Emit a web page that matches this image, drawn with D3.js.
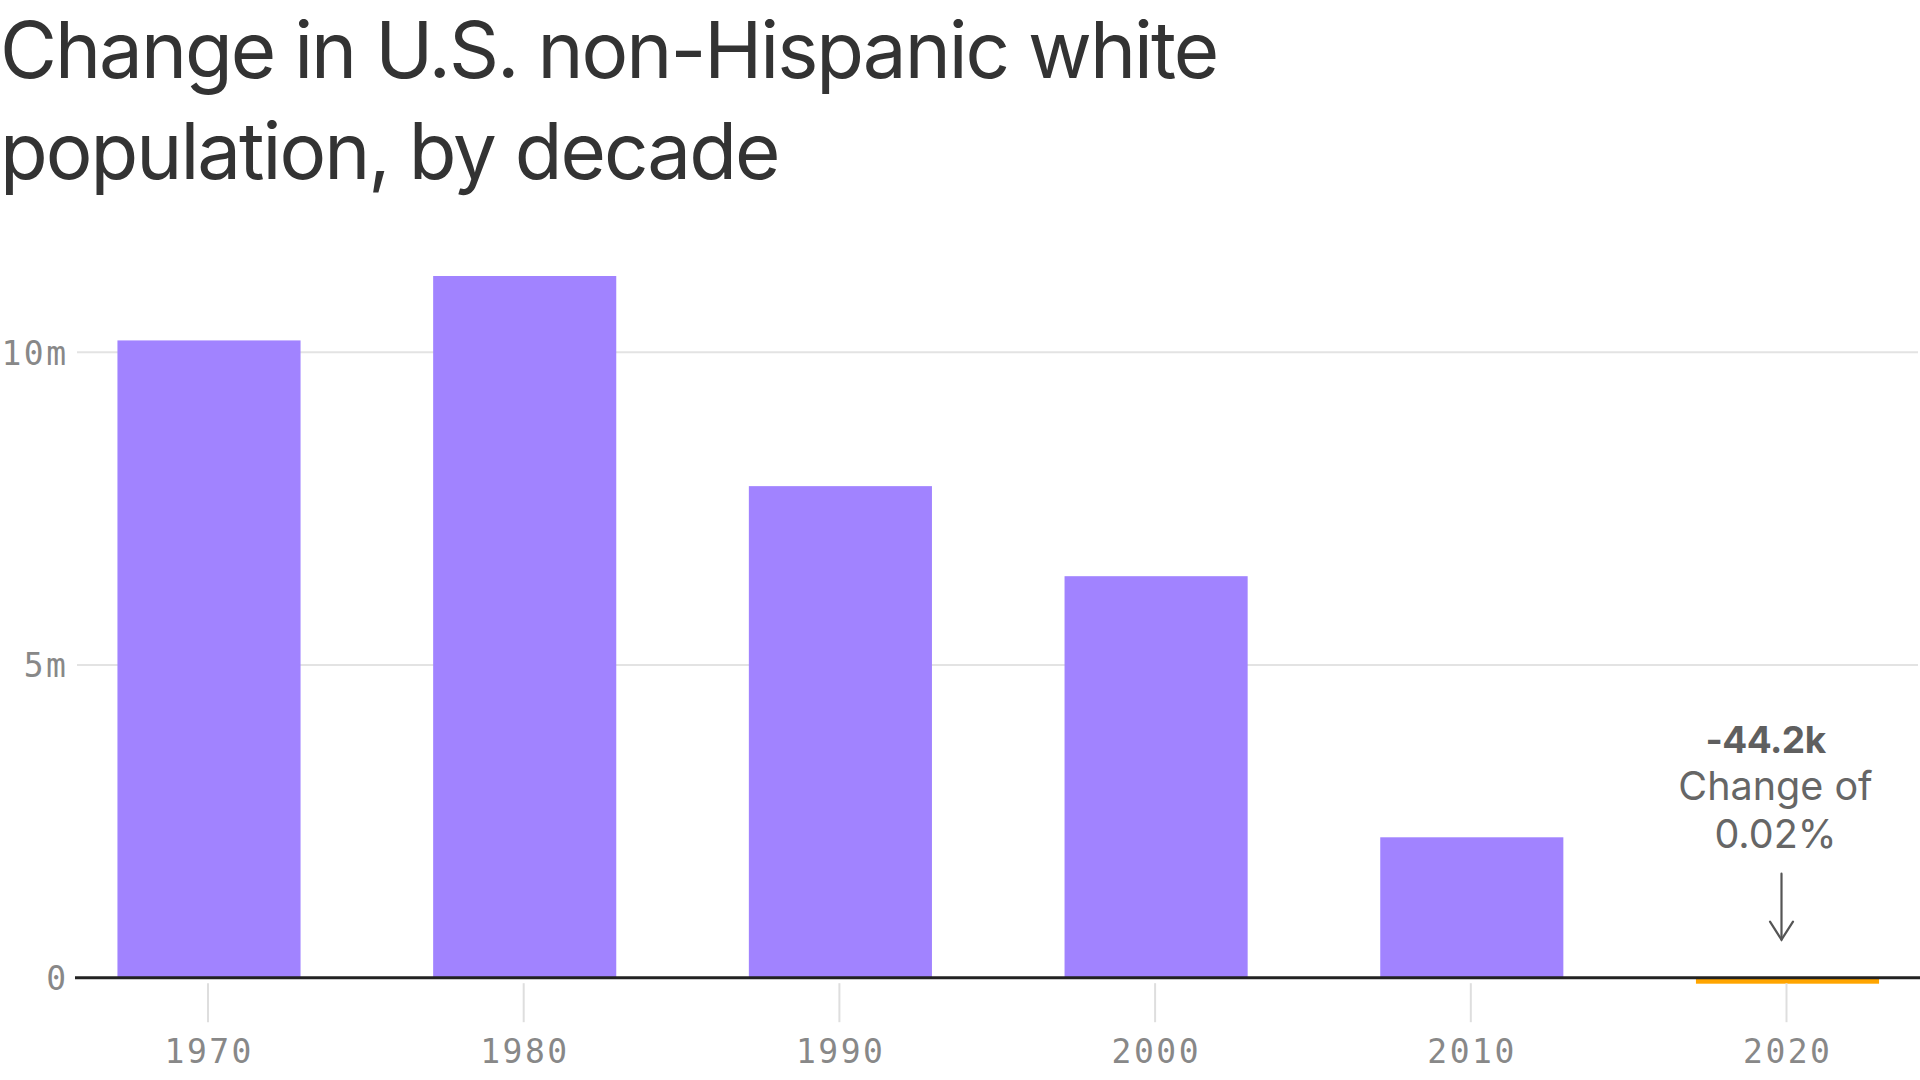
<!DOCTYPE html>
<html><head><meta charset="utf-8">
<script src="https://cdn.jsdelivr.net/npm/d3@7"></script>
<style>body{margin:0;background:#fff;overflow:hidden} svg{display:block}</style>
</head><body>
<svg id="c" width="1920" height="1080"></svg>
<script>
// ---- data ----
const titleLines = ["Change in U.S. non-Hispanic white", "population, by decade"];
const decades = ["1970", "1980", "1990", "2000", "2010", "2020"];
const changeMillions = [10.19, 11.22, 7.86, 6.42, 2.245, -0.0442];
const yTicks = [0, 5, 10];
const yTickLabels = ["0", "5m", "10m"];
const annotationLines = ["-44.2k", "Change of", "0.02%"];
const annotatedDecade = "2020";

const data = decades.map((d, i) => ({decade: d, value: changeMillions[i]}));

const svg = d3.select("#c");
const W = 1920, H = 1080;
svg.append("rect").attr("width", W).attr("height", H).attr("fill", "#fff");

const sans = "Inter, 'Open Sans', sans-serif";
const mono = "'DejaVu Sans Mono', monospace";

// title
const title = svg.append("text")
  .attr("font-family", sans).attr("font-size", 78).attr("fill", "#333")
  .attr("letter-spacing", -2);
title.selectAll("tspan").data(titleLines).join("tspan")
  .attr("x", 0).attr("y", (d, i) => 78 + i * 101).text(d => d);

// scales
const step = 315.7;
const firstCenter = 209;
const x = d3.scaleBand().domain(decades)
  .range([firstCenter - step / 2, firstCenter - step / 2 + step * decades.length])
  .paddingInner(0.42).paddingOuter(0.21);
const y = d3.scaleLinear().domain([0, 10]).range([977.7, 352.3]);

// gridlines
svg.append("g").selectAll("line").data(yTicks.filter(t => t !== 0)).join("line")
  .attr("x1", 77).attr("x2", 1918)
  .attr("y1", d => y(d)).attr("y2", d => y(d))
  .attr("stroke", "#e3e3e3").attr("stroke-width", 2);

// y labels
const yAxis = d3.axisLeft(y).tickValues(yTicks)
  .tickFormat((d, i) => yTickLabels[i]).tickSize(0).tickPadding(0);
const gy = svg.append("g").attr("transform", "translate(66,0)").call(yAxis);
gy.select(".domain").remove();
gy.selectAll("text").attr("font-family", mono).attr("font-size", 33)
  .attr("fill", "#888").attr("letter-spacing", 2.5).attr("dx", 2.5)
  .attr("dy", "0.36em");

// bars
svg.append("g").selectAll("rect").data(data).join("rect")
  .attr("x", d => x(d.decade))
  .attr("width", x.bandwidth())
  .attr("y", d => d.value >= 0 ? y(d.value) : y(0))
  .attr("height", d => d.value >= 0 ? y(0) - y(d.value) : Math.max(6, y(d.value) - y(0)))
  .attr("fill", d => d.value >= 0 ? "#a183ff" : "#ffa500");

// zero line
svg.append("line").attr("x1", 75).attr("x2", 1920)
  .attr("y1", y(0)).attr("y2", y(0))
  .attr("stroke", "#222").attr("stroke-width", 3);

// x axis
const xAxis = d3.axisBottom(x).tickSize(39).tickPadding(0);
const gx = svg.append("g").attr("transform", `translate(-1,${y(0) + 5.5})`).call(xAxis);
gx.select(".domain").remove();
gx.selectAll(".tick line").attr("stroke", "#dedede").attr("stroke-width", 2);
gx.selectAll(".tick text").attr("font-family", mono).attr("font-size", 33)
  .attr("fill", "#888").attr("letter-spacing", 2.5).attr("dx", 1.25)
  .attr("y", 80).attr("dy", 0);

// annotation
const cx = x(annotatedDecade) + x.bandwidth() / 2;
const ann = svg.append("g").attr("fill", "#666").attr("font-family", sans)
  .attr("text-anchor", "middle");
ann.append("text").attr("x", cx - 22).attr("y", y(0) - 225)
  .attr("font-size", 37).attr("font-weight", 700).attr("fill", "#5f5f5f")
  .attr("letter-spacing", -0.5)
  .text(annotationLines[0]);
ann.append("text").attr("x", cx - 12).attr("y", y(0) - 178)
  .attr("font-size", 39.5).text(annotationLines[1]);
ann.append("text").attr("x", cx - 12).attr("y", y(0) - 130)
  .attr("font-size", 39.5).text(annotationLines[2]);

const ax = cx - 6;
const arrow = svg.append("g").attr("stroke", "#555").attr("stroke-width", 2.2)
  .attr("fill", "none").attr("stroke-linecap", "round");
arrow.append("line").attr("x1", ax).attr("x2", ax)
  .attr("y1", y(0) - 104).attr("y2", y(0) - 38);
arrow.append("path")
  .attr("d", `M${ax - 11.5},${y(0) - 56} L${ax},${y(0) - 38} L${ax + 11.5},${y(0) - 56}`);
</script>
</body></html>
